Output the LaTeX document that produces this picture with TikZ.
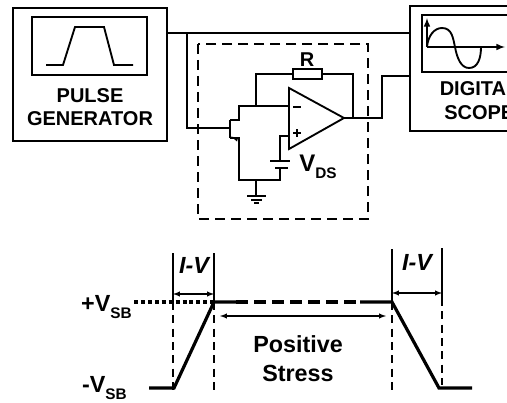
\documentclass[tikz,border=0pt]{standalone}
\usepackage{fontspec}
\setmainfont{Liberation Sans}
\tikzset{
  wire/.style={line width=1.2pt},
  blockbox/.style={draw,line width=1.4pt,inner sep=0pt},
  screenbox/.style={draw,line width=1.4pt,inner sep=0pt},
  wave/.style={line width=2.4pt},
  guide/.style={line width=1.1pt},
  guidedash/.style={line width=1.1pt,dash pattern={on 6pt off 4pt}},
  span/.style={line width=0.8pt,<->,>=latex},
  lbl/.style={inner sep=0.75pt,font=\bfseries\fontsize{15}{17}\selectfont},
  sublbl/.style={inner sep=0.75pt,font=\bfseries\fontsize{17.5}{20}\selectfont}
}
\begin{document}
\begin{tikzpicture}[x=0.75pt,y=0.75pt,yscale=-1,xscale=1]
\clip (0,0) rectangle (507,403);

%Pulse generator
\node [blockbox,minimum width=154*0.75pt,minimum height=133*0.75pt] (pulsegen) at (90,74.5) {};
\node [screenbox,minimum width=115*0.75pt,minimum height=58*0.75pt] (pulsescreen) at (89.5,46) {};
\draw [line width=1.4pt] (46,65) -- (63,65) -- (75,27) -- (104,27) -- (114,65) -- (133,65);
\node [lbl] (pulsetext) at (90,96) {PULSE};
\node [lbl] (gentext) at (90,119) {GENERATOR};

%Scope
\node [blockbox,minimum width=130*0.75pt,minimum height=125*0.75pt] (scopebox) at (475,68.5) {};
\node [screenbox,minimum width=110*0.75pt,minimum height=57*0.75pt] (scopescreen) at (477,43.5) {};
\coordinate (origin) at (427,47);
\draw [wire,-latex] (origin) -- (427,18);
\draw [wire,-latex] (origin) -- (505,47);
\draw [line width=1.4pt] (origin) .. controls (428,36) and (434,28) .. (442,28) .. controls (452,28) and (453,38) .. (455,47) .. controls (457,58) and (461,68) .. (469,68) .. controls (478,68) and (481,58) .. (481,47);
\node [lbl,anchor=west] (scopetext) at (438.5,89) {DIGITA};
\node [lbl,anchor=west] (scopetexttwo) at (443,113) {SCOPE};

%Bias box
\draw [line width=1.2pt,dash pattern={on 7.5pt off 4.5pt}] (198,44) rectangle (368,219);

%Op amp
\coordinate (minusin) at (289,106);
\coordinate (plusin) at (289,136);
\coordinate (ampout) at (344,118);
\draw [line width=1.4pt] (289,88) -- (289,149) -- (ampout) -- cycle;
\draw [line width=1.4pt] (293,107) -- (301,107);
\draw [line width=1.4pt] (293,133) -- (301,133) (297,129) -- (297,137);

%Feedback resistor
\node [draw,line width=1.2pt,minimum width=29*0.75pt,minimum height=10*0.75pt,inner sep=0pt] (resistor) at (307.5,74) {};
\node [lbl] (rtext) at (307,60) {R};
\coordinate (fbtap) at (256,106);
\coordinate (fbout) at (353,118);
\draw [wire] (fbtap) |- (resistor.west);
\draw [wire] (resistor.east) -| (fbout);

%Transistor
\coordinate (gate) at (230,128);
\coordinate (drain) at (230,120);
\coordinate (source) at (230,138);
\coordinate (gnd) at (256,180);
\draw [line width=1.6pt] (drain) -- (source);
\draw [wire] (drain) -- (239,120) -- (239,106) -- (minusin);
\draw [wire] (source) -- (239,138) -- (239,180) -- (280,180) -- (280,168);
\fill (231,136.5) -- (238,138) -- (237,141.5) -- cycle;

%Battery
\coordinate (batplus) at (280,161);
\draw [line width=1.4pt] (270,161) -- (290,161);
\draw [line width=1.4pt] (275,168) -- (288,168);
\draw [wire] (batplus) |- (plusin);
\node [anchor=west,inner sep=0pt] (vds) at (299,167) {\bfseries\fontsize{18}{20}\selectfont V\raisebox{-5pt}{\fontsize{11.5}{13}\selectfont DS}};

%Ground
\coordinate (gndend) at (256,196);
\draw [wire] (gnd) -- (gndend);
\draw [line width=1.4pt] (247,196) -- (266,196) (251,200) -- (262,200) (254,203) -- (259,203);

%Connections
\coordinate (tap) at (187,33);
\coordinate (scopein) at (382,76);
\draw [wire] (pulsegen.east |- tap) -- (scopebox.west |- tap);
\draw [wire] (tap) |- (gate);
\draw [wire] (ampout) -| (scopein) -- (scopebox.west |- scopein);

%Waveform
\draw [wave] (149,388) -- (174,388) -- (214,302) -- (236,302);
\draw [wave,dash pattern={on 9pt off 4.5pt}] (236,302) -- (360,302);
\draw [wave] (360,302) -- (392,302) -- (439,388) -- (472,388);
\draw [line width=2.4pt,dash pattern={on 3pt off 2.2pt}] (134,302) -- (214,302);

%Left I-V window
\coordinate (lefta) at (173,253);
\coordinate (leftb) at (214,253);
\draw [guide] (lefta) -- (173,302) coordinate (lefta2);
\draw [guide] (leftb) -- (214,302) coordinate (leftb2);
\draw [guidedash] (lefta2) -- (173,390);
\draw [guidedash] (leftb2) -- (214,390);
\draw [span] (173,294) -- (214,294);
\node [sublbl,font=\bfseries\itshape\fontsize{17.5}{20}\selectfont] (ivleft) at (194,265) {I-V};

%Right I-V window
\coordinate (righta) at (392,249);
\coordinate (rightb) at (442,248);
\draw [guide] (righta) -- (392,302) coordinate (righta2);
\draw [guide] (rightb) -- (442,298) coordinate (rightb2);
\draw [guidedash] (righta2) -- (392,390);
\draw [guidedash] (rightb2) -- (442,385);
\draw [span] (392,293) -- (442,293);
\node [sublbl,font=\bfseries\itshape\fontsize{17.5}{20}\selectfont] (ivright) at (417,262) {I-V};

%Stress
\draw [span] (220,316) -- (386,316);
\node [sublbl] (positive) at (298,344) {Positive};
\node [sublbl] (stress) at (298,373) {Stress};

%Levels
\node [anchor=east,inner sep=0pt] (vplus) at (132,307) {\bfseries\fontsize{17.5}{20}\selectfont +V\raisebox{-5pt}{\fontsize{11.5}{13}\selectfont SB}};
\node [anchor=east,inner sep=0pt] (vminus) at (127,388) {\bfseries\fontsize{17.5}{20}\selectfont -V\raisebox{-5pt}{\fontsize{11.5}{13}\selectfont SB}};

\end{tikzpicture}
\end{document}
